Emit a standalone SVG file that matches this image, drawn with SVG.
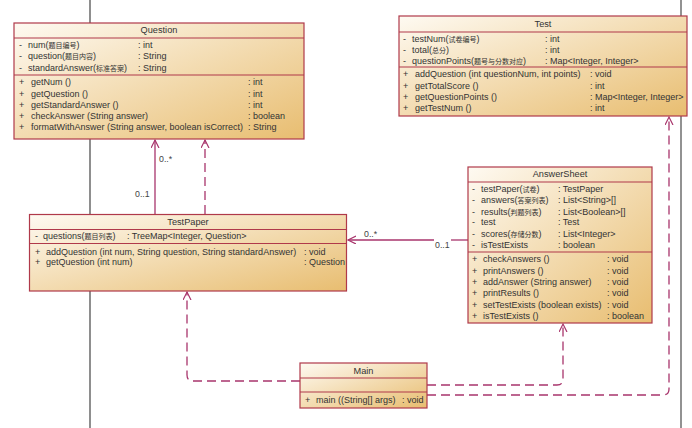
<svg xmlns="http://www.w3.org/2000/svg" width="692" height="428" viewBox="0 0 692 428">
<style>
.box{fill:url(#g);stroke:#b0394a;stroke-width:1.2}
.sep{stroke:#b0394a;stroke-width:1.2}
text{font-family:"Liberation Sans","Noto Sans CJK SC",sans-serif;font-size:9px;fill:#333}
.k{font-size:7px}
.t{text-anchor:middle;font-size:9.2px}
.c{fill:none;stroke:#a8356c;stroke-width:1.3}
.d{stroke-dasharray:9 5}
.lbl{font-size:8.8px;fill:#444}
</style>
<defs>
<linearGradient id="g" x1="0" y1="0" x2="1" y2="1">
<stop offset="0" stop-color="#fefaf2"/>
<stop offset="1" stop-color="#e8bd70"/>
</linearGradient>
<marker id="a" markerWidth="10" markerHeight="10" refX="8" refY="4" orient="auto" markerUnits="userSpaceOnUse">
<path d="M0,0 L8,4 L0,8" fill="none" stroke="#a8356c" stroke-width="1.2"/>
</marker>
</defs>
<rect width="692" height="428" fill="#fff"/>
<line x1="90" y1="0" x2="90" y2="428" stroke="#444" stroke-width="1.2"/>
<line x1="681" y1="0" x2="681" y2="428" stroke="#777" stroke-width="1.6"/>

<g id="connectors">
<line class="c" x1="155" y1="214" x2="155" y2="140" marker-end="url(#a)"/>
<line class="c d" x1="205" y1="214" x2="205" y2="140" marker-end="url(#a)"/>
<line class="c" x1="468" y1="240" x2="451" y2="240"/>
<line class="c" x1="434" y1="240" x2="348" y2="240" marker-end="url(#a)"/>
<path class="c d" d="M300,381 H193 Q187,381 187,375 V292" marker-end="url(#a)"/>
<path class="c d" d="M427,385 H557 Q563,385 563,379 V324" marker-end="url(#a)"/>
<path class="c d" d="M427,395 H663 Q669,395 669,389 V117" marker-end="url(#a)"/>
<text class="lbl" x="159" y="162">0..*</text>
<text class="lbl" x="135" y="197">0..1</text>
<text class="lbl" x="364" y="237">0..*</text>
<text class="lbl" x="435" y="248">0..1</text>
</g>

<g id="Question">
<rect class="box" x="14" y="23" width="290" height="116"/>
<line class="sep" x1="14" y1="38" x2="304" y2="38"/>
<line class="sep" x1="14" y1="75" x2="304" y2="75"/>
<text class="t" x="159" y="33">Question</text>
<text x="19" y="47.5">-</text><text x="28" y="47.5">num(<tspan class="k">题目编号</tspan>)</text><text x="138" y="47.5">: int</text>
<text x="19" y="59">-</text><text x="28" y="59">question(<tspan class="k">题目内容</tspan>)</text><text x="138" y="59">: String</text>
<text x="19" y="70.5">-</text><text x="28" y="70.5">standardAnswer(<tspan class="k">标准答案</tspan>)</text><text x="138" y="70.5">: String</text>
<text x="19" y="85">+</text><text x="31" y="85">getNum ()</text><text x="248" y="85">: int</text>
<text x="19" y="96.5">+</text><text x="31" y="96.5">getQuestion ()</text><text x="248" y="96.5">: int</text>
<text x="19" y="107.5">+</text><text x="31" y="107.5">getStandardAnswer ()</text><text x="248" y="107.5">: int</text>
<text x="19" y="119">+</text><text x="31" y="119">checkAnswer (String answer)</text><text x="248" y="119">: boolean</text>
<text x="19" y="130">+</text><text x="31" y="130">formatWithAnswer (String answer, boolean isCorrect)</text><text x="248" y="130">: String</text>
</g>

<g id="Test">
<rect class="box" x="399" y="16" width="288" height="100"/>
<line class="sep" x1="399" y1="32" x2="687" y2="32"/>
<line class="sep" x1="399" y1="67" x2="687" y2="67"/>
<text class="t" x="543" y="26.5">Test</text>
<text x="403" y="41.5">-</text><text x="412" y="41.5">testNum(<tspan class="k">试卷编号</tspan>)</text><text x="545" y="41.5">: int</text>
<text x="403" y="52.5">-</text><text x="412" y="52.5">total(<tspan class="k">总分</tspan>)</text><text x="545" y="52.5">: int</text>
<text x="403" y="64">-</text><text x="412" y="64">questionPoints(<tspan class="k">题号与分数对应</tspan>)</text><text x="545" y="64">: Map&lt;Integer, Integer&gt;</text>
<text x="403" y="77">+</text><text x="415" y="77">addQuestion (int questionNum, int points)</text><text x="590" y="77">: void</text>
<text x="403" y="88.5">+</text><text x="415" y="88.5">getTotalScore ()</text><text x="590" y="88.5">: int</text>
<text x="403" y="100">+</text><text x="415" y="100">getQuestionPoints ()</text><text x="590" y="100">: Map&lt;Integer, Integer&gt;</text>
<text x="403" y="111">+</text><text x="415" y="111">getTestNum ()</text><text x="590" y="111">: int</text>
</g>

<g id="TestPaper">
<rect class="box" x="29.5" y="214.5" width="317" height="76.5"/>
<line class="sep" x1="29.5" y1="229.5" x2="346.5" y2="229.5"/>
<line class="sep" x1="29.5" y1="243.5" x2="346.5" y2="243.5"/>
<text class="t" x="188" y="225">TestPaper</text>
<text x="35" y="239">-</text><text x="43" y="239">questions(<tspan class="k">题目列表</tspan>)</text><text x="127" y="239">: TreeMap&lt;Integer, Question&gt;</text>
<text x="35" y="254.5">+</text><text x="46" y="254.5">addQuestion (int num, String question, String standardAnswer)</text><text x="304" y="254.5">: void</text>
<text x="35" y="264.5">+</text><text x="46" y="264.5">getQuestion (int num)</text><text x="304" y="264.5">: Question</text>
</g>

<g id="AnswerSheet">
<rect class="box" x="468" y="167" width="184" height="156"/>
<line class="sep" x1="468" y1="182" x2="652" y2="182"/>
<line class="sep" x1="468" y1="252" x2="652" y2="252"/>
<text class="t" x="560" y="177">AnswerSheet</text>
<text x="472" y="192">-</text><text x="481" y="192">testPaper(<tspan class="k">试卷</tspan>)</text><text x="558" y="192">: TestPaper</text>
<text x="472" y="203.3">-</text><text x="481" y="203.3">answers(<tspan class="k">答案列表</tspan>)</text><text x="558" y="203.3">: List&lt;String&gt;[]</text>
<text x="472" y="214.7">-</text><text x="481" y="214.7">results(<tspan class="k">判题列表</tspan>)</text><text x="558" y="214.7">: List&lt;Boolean&gt;[]</text>
<text x="472" y="225.3">-</text><text x="481" y="225.3">test</text><text x="558" y="225.3">: Test</text>
<text x="472" y="236.7">-</text><text x="481" y="236.7">scores(<tspan class="k">存储分数</tspan>)</text><text x="558" y="236.7">: List&lt;Integer&gt;</text>
<text x="472" y="248">-</text><text x="481" y="248">isTestExists</text><text x="558" y="248">: boolean</text>
<text x="472" y="262.3">+</text><text x="483" y="262.3">checkAnswers ()</text><text x="607" y="262.3">: void</text>
<text x="472" y="273.7">+</text><text x="483" y="273.7">printAnswers ()</text><text x="607" y="273.7">: void</text>
<text x="472" y="285">+</text><text x="483" y="285">addAnswer (String answer)</text><text x="607" y="285">: void</text>
<text x="472" y="296.3">+</text><text x="483" y="296.3">printResults ()</text><text x="607" y="296.3">: void</text>
<text x="472" y="307.7">+</text><text x="483" y="307.7">setTestExists (boolean exists)</text><text x="607" y="307.7">: void</text>
<text x="472" y="318.7">+</text><text x="483" y="318.7">isTestExists ()</text><text x="607" y="318.7">: boolean</text>
</g>

<g id="Main">
<rect class="box" x="300" y="363" width="127" height="45"/>
<line class="sep" x1="300" y1="378" x2="427" y2="378"/>
<line class="sep" x1="300" y1="392" x2="427" y2="392"/>
<text class="t" x="363.5" y="374">Main</text>
<text x="305" y="403">+</text><text x="316" y="403">main ((String[] args)</text><text x="402" y="403">: void</text>
</g>
</svg>
